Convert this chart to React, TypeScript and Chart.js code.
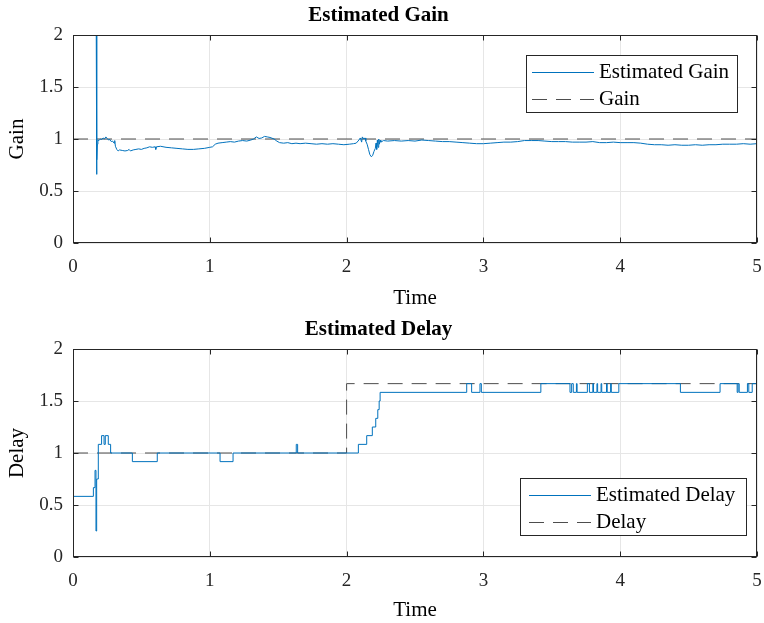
import React, { useEffect, useRef } from 'react';
import { Chart, registerables } from 'chart.js';

Chart.register(...registerables);

const FONT = '"Liberation Serif", "Times New Roman", Times, serif';
const BLUE = '#0072BD';
const DASH = '#4d4d4d';
const AXIS = '#262626';
const GRID = '#e6e6e6';

// ---------- Data: Estimated Gain ----------
const gainTime = [
  0, 0.17, 0.172, 0.175, 0.178, 0.182, 0.19, 0.2, 0.21, 0.22, 0.23, 0.24, 0.25, 0.26, 0.27, 0.28, 0.29, 0.3,
  0.305, 0.31, 0.32, 0.33, 0.34, 0.36, 0.38, 0.4, 0.41, 0.42, 0.44, 0.46, 0.48, 0.5, 0.52, 0.54, 0.56, 0.58,
  0.6, 0.605, 0.61, 0.64, 0.68, 0.72, 0.76, 0.8, 0.84, 0.88, 0.92, 0.96, 1.0, 1.02, 1.04, 1.06, 1.09, 1.12,
  1.15, 1.18, 1.21, 1.24, 1.27, 1.3, 1.32, 1.34, 1.36, 1.38, 1.4, 1.42, 1.44, 1.47, 1.49, 1.51, 1.54, 1.57,
  1.6, 1.63, 1.66, 1.7, 1.74, 1.78, 1.82, 1.86, 1.9, 1.94, 1.98, 2.02, 2.05, 2.07, 2.09, 2.1, 2.11, 2.115,
  2.125, 2.135, 2.14, 2.15, 2.16, 2.17, 2.18, 2.19, 2.2, 2.21, 2.215, 2.22, 2.225, 2.23, 2.235, 2.24, 2.245,
  2.25, 2.27, 2.3, 2.35, 2.4, 2.45, 2.5, 2.55, 2.6, 2.65, 2.7, 2.75, 2.8, 2.85, 2.9, 2.95, 3.0, 3.05, 3.1,
  3.15, 3.2, 3.25, 3.3, 3.35, 3.4, 3.45, 3.5, 3.55, 3.6, 3.65, 3.7, 3.75, 3.8, 3.85, 3.9, 3.95, 4.0, 4.05,
  4.1, 4.15, 4.2, 4.25, 4.3, 4.35, 4.4, 4.45, 4.5, 4.55, 4.6, 4.65, 4.7, 4.75, 4.8, 4.85, 4.9, 4.95, 5.0,
];
const gainEst = [
  2, 2, 0.66, 0.8, 0.95, 0.99, 0.985, 1.0, 0.995, 1.01, 1.0, 1.02, 1.005, 0.99, 0.995, 0.975, 0.98, 0.96,
  0.985, 0.93, 0.9, 0.885, 0.895, 0.89, 0.885, 0.89, 0.9, 0.885, 0.895, 0.9, 0.905, 0.9, 0.91, 0.915, 0.925, 0.92,
  0.925, 0.9, 0.925, 0.93, 0.92, 0.915, 0.91, 0.905, 0.9, 0.9, 0.905, 0.91, 0.92, 0.925, 0.95, 0.96, 0.965, 0.97,
  0.975, 0.97, 0.98, 0.985, 0.98, 0.99, 1.0, 1.02, 1.005, 1.01, 1.025, 1.02, 1.015, 1.0, 0.98, 0.965, 0.96, 0.965,
  0.955, 0.96, 0.955, 0.96, 0.955, 0.95, 0.955, 0.95, 0.955, 0.95, 0.945, 0.95, 0.955, 0.96, 0.99, 1.01, 0.97, 1.02,
  1.0, 1.01, 0.98, 0.95, 0.9, 0.85, 0.83, 0.84, 0.88, 0.91, 0.96, 0.9, 0.99, 0.92, 1.0, 0.95, 0.99,
  0.97, 0.985, 0.98, 0.985, 0.98, 0.985, 0.98, 0.99, 0.985, 0.98, 0.975, 0.975, 0.97, 0.965, 0.96, 0.955, 0.955, 0.96, 0.965,
  0.97, 0.97, 0.975, 0.985, 0.985, 0.985, 0.98, 0.975, 0.975, 0.975, 0.97, 0.97, 0.97, 0.975, 0.965, 0.965, 0.97, 0.965, 0.965,
  0.965, 0.96, 0.95, 0.945, 0.945, 0.94, 0.945, 0.94, 0.94, 0.945, 0.94, 0.945, 0.945, 0.95, 0.95, 0.95, 0.955, 0.95, 0.955,
];
const trueGainTime = [0, 5];
const trueGain = [1, 1];

// ---------- Data: Estimated Delay (value held from each time to the next) ----------
const delayTime = [
  0, 0.149, 0.161, 0.168, 0.173, 0.185, 0.209, 0.227, 0.236, 0.258, 0.275, 0.434, 0.616, 1.075, 1.17, 1.632,
  1.642, 2.086, 2.147, 2.188, 2.213, 2.228, 2.238, 2.245, 2.878, 2.914, 2.975, 2.985, 3.42, 3.633, 3.645, 3.657,
  3.68, 3.685, 3.76, 3.775, 3.8, 3.805, 3.83, 3.835, 3.86, 3.865, 3.9, 3.905, 3.93, 3.935, 3.99, 4.44, 4.73,
  4.855, 4.862, 4.87, 4.93, 4.94, 4.965, 5.0,
];
const delayEst = [
  0.583, 0.667, 0.833, 0.25, 0.75, 1.083, 1.167, 1.083, 1.167, 1.083, 1.0, 0.917, 1.0, 0.917, 1.0, 1.083,
  1.0, 1.083, 1.167, 1.25, 1.333, 1.417, 1.5, 1.583, 1.667, 1.583, 1.667, 1.583, 1.667, 1.583, 1.667, 1.583,
  1.667, 1.583, 1.667, 1.583, 1.667, 1.583, 1.667, 1.583, 1.667, 1.583, 1.667, 1.583, 1.667, 1.583, 1.667, 1.583, 1.667,
  1.583, 1.667, 1.583, 1.667, 1.583, 1.667, 1.667,
];
const trueDelayTime = [0, 2, 2, 5];
const trueDelay = [1, 1, 1.667, 1.667];

const toXY = (xs: number[], ys: number[]) => xs.map((x, i) => ({ x, y: ys[i] }));

type LegendCfg = { anchor: 'ne' | 'se'; dx: number; dy: number; extra: number };

const framePlugin = {
  id: 'frame',
  afterDraw(chart: any) {
    const { ctx, chartArea: a, scales } = chart;
    const L = Math.round(a.left) + 0.5;
    const R = Math.round(a.right) - 0.5;
    const T = Math.round(a.top) + 0.5;
    const B = Math.round(a.bottom) - 0.5;
    ctx.save();
    ctx.strokeStyle = AXIS;
    ctx.lineWidth = 1;
    ctx.strokeRect(L, T, R - L, B - T);
    const tl = 5;
    ctx.beginPath();
    scales.x.ticks.forEach((t: any) => {
      const px = Math.round(scales.x.getPixelForValue(t.value)) + 0.5;
      ctx.moveTo(px, T);
      ctx.lineTo(px, T + tl);
      ctx.moveTo(px, B);
      ctx.lineTo(px, B - tl);
    });
    scales.y.ticks.forEach((t: any) => {
      const py = Math.round(scales.y.getPixelForValue(t.value)) + 0.5;
      ctx.moveTo(L, py);
      ctx.lineTo(L + tl, py);
      ctx.moveTo(R, py);
      ctx.lineTo(R - tl, py);
    });
    ctx.stroke();
    ctx.restore();
  },
};

const legendPlugin = {
  id: 'boxLegend',
  afterDraw(chart: any, _args: any, opts: any) {
    const cfg: LegendCfg = opts.cfg;
    if (!cfg) return;
    const { ctx, chartArea: a } = chart;
    const ds = chart.data.datasets;
    ctx.save();
    ctx.font = `21px ${FONT}`;
    const textW = Math.max(...ds.map((d: any) => ctx.measureText(d.label).width));
    const padL = 6 + cfg.extra, lineLen = 62, gap = 5, padR = 9 + cfg.extra, rowH = 27, padV = 2;
    const w = Math.round(padL + lineLen + gap + textW + padR);
    const h = rowH * ds.length + padV * 2;
    const right = Math.round(a.right - cfg.dx);
    const left = right - w;
    const top = cfg.anchor === 'ne' ? Math.round(a.top + cfg.dy) : Math.round(a.bottom - cfg.dy - h);
    ctx.fillStyle = '#ffffff';
    ctx.fillRect(left, top, w, h);
    ctx.strokeStyle = AXIS;
    ctx.lineWidth = 1;
    ctx.strokeRect(left + 0.5, top + 0.5, w - 1, h - 1);
    ds.forEach((d: any, i: number) => {
      const cy = top + padV + rowH * i + rowH / 2 + 1;
      ctx.beginPath();
      ctx.strokeStyle = d.borderColor;
      ctx.lineWidth = 1;
      ctx.setLineDash(d.borderDash || []);
      ctx.moveTo(left + padL, Math.round(cy) + 0.5);
      ctx.lineTo(left + padL + lineLen, Math.round(cy) + 0.5);
      ctx.stroke();
      ctx.setLineDash([]);
      ctx.fillStyle = '#000';
      ctx.textAlign = 'left';
      ctx.textBaseline = 'middle';
      ctx.fillText(d.label, left + padL + lineLen + gap, cy + 1);
    });
    ctx.restore();
  },
};

type PanelProps = {
  height: number;
  title: string;
  yLabel: string;
  datasets: any[];
  legend: LegendCfg;
  xTitlePadBottom: number;
};

function Panel({ height, title, yLabel, datasets, legend, xTitlePadBottom }: PanelProps) {
  const ref = useRef<HTMLCanvasElement | null>(null);
  useEffect(() => {
    if (!ref.current) return;
    const chart = new Chart(ref.current, {
      type: 'line',
      data: { datasets },
      options: {
        responsive: false,
        animation: false,
        parsing: false as any,
        layout: { padding: { left: 0, right: 7, top: 0, bottom: 0 } },
        elements: { point: { radius: 0 } },
        plugins: {
          legend: { display: false },
          tooltip: { enabled: false },
          title: {
            display: true,
            text: title,
            color: '#000',
            font: { family: FONT, size: 21, weight: 'bold' },
            padding: { top: 3.4, bottom: 6.4 },
          },
          boxLegend: { cfg: legend },
        } as any,
        scales: {
          x: {
            type: 'linear',
            min: 0,
            max: 5,
            ticks: { stepSize: 1, color: AXIS, font: { family: FONT, size: 19 }, padding: 0, maxRotation: 0 },
            grid: { color: GRID, drawTicks: true, tickLength: 13, tickColor: 'rgba(0,0,0,0)' },
            border: { display: false },
            title: {
              display: true,
              text: 'Time',
              color: '#000',
              font: { family: FONT, size: 21 },
              padding: { top: 0, bottom: xTitlePadBottom },
            },
            afterFit: (s: any) => {
              s.height = height - 243;
            },
          },
          y: {
            type: 'linear',
            min: 0,
            max: 2,
            ticks: {
              stepSize: 0.5,
              color: AXIS,
              font: { family: FONT, size: 19 },
              padding: 0,
              callback: (v: any) => String(Number(v)),
            },
            grid: { color: GRID, drawTicks: true, tickLength: 10, tickColor: 'rgba(0,0,0,0)' },
            border: { display: false },
            title: {
              display: true,
              text: yLabel,
              color: '#000',
              font: { family: FONT, size: 21 },
              padding: { top: 4.4, bottom: 0 },
            },
            afterFit: (s: any) => {
              s.width = 73;
            },
          },
        },
      },
      plugins: [framePlugin, legendPlugin],
    });
    return () => chart.destroy();
  }, []);
  return (
    <canvas
      ref={ref}
      width={764}
      height={height}
      style={{ display: 'block', width: 764, height }}
    />
  );
}

export default function App() {
  const gainSets = [
    {
      label: 'Estimated Gain',
      data: toXY(gainTime, gainEst),
      borderColor: BLUE,
      borderWidth: 1,
      pointRadius: 0,
      fill: false,
      tension: 0,
    },
    {
      label: 'Gain',
      data: toXY(trueGainTime, trueGain),
      borderColor: DASH,
      borderWidth: 1,
      borderDash: [15, 9],
      pointRadius: 0,
      fill: false,
    },
  ];
  const delaySets = [
    {
      label: 'Estimated Delay',
      data: toXY(delayTime, delayEst),
      borderColor: BLUE,
      borderWidth: 1,
      pointRadius: 0,
      stepped: 'before',
      fill: false,
    },
    {
      label: 'Delay',
      data: toXY(trueDelayTime, trueDelay),
      borderColor: DASH,
      borderWidth: 1,
      borderDash: [15, 9],
      pointRadius: 0,
      fill: false,
    },
  ];
  return (
    <div style={{ position: 'absolute', left: 0, top: 0, width: 764, height: 623, background: '#fff' }}>
      <div style={{ position: 'absolute', left: 0, top: 0 }}>
        <Panel
          height={312}
          title="Estimated Gain"
          yLabel="Gain"
          datasets={gainSets}
          legend={{ anchor: 'ne', dx: 19, dy: 20, extra: 0 }}
          xTitlePadBottom={1.4}
        />
      </div>
      <div style={{ position: 'absolute', left: 0, top: 314 }}>
        <Panel
          height={309}
          title="Estimated Delay"
          yLabel="Delay"
          datasets={delaySets}
          legend={{ anchor: 'se', dx: 10, dy: 21, extra: 3 }}
          xTitlePadBottom={0}
        />
      </div>
    </div>
  );
}
